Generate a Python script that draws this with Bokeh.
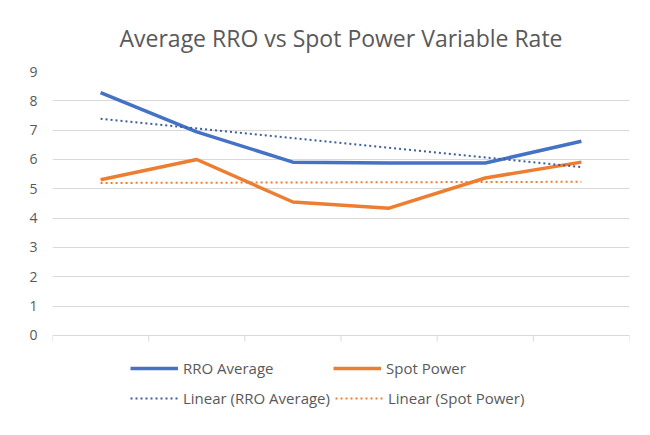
from bokeh.plotting import figure
from bokeh.models import Range1d, FixedTicker, Legend, LegendItem, Span
from bokeh.embed import file_html
from bokeh.resources import INLINE

# ---- data ----
categories = ["1", "2", "3", "4", "5", "6"]
rro_average = [8.28, 6.94, 5.91, 5.88, 5.88, 6.62]
spot_power = [5.31, 6.00, 4.55, 4.34, 5.37, 5.91]
linear_rro = [7.39, 5.74]      # trendline at first / last category
linear_spot = [5.20, 5.24]
y_ticks = list(range(0, 10))

TEXT = "#595959"
GRID = "#d9d9d9"
BLUE = "#4472C4"
ORANGE = "#ED7D31"
FONT = "Open Sans"

# category centres on a linear axis whose ticks sit on category boundaries
n = len(categories)
xc = [i + 0.5 for i in range(n)]
xt = [xc[0], xc[-1]]
bounds = list(range(n + 1))

# frame extends below 0 so the legend can sit inside it (no clipping)
p = figure(width=650, height=435, x_range=Range1d(0, n), y_range=Range1d(-3.41, 9),
           output_backend="svg", toolbar_location=None,
           min_border_left=52, min_border_right=21, min_border_top=71,
           min_border_bottom=0)
p.xaxis.visible = False

p.title.text = "Average RRO vs Spot Power Variable Rate"
p.title.align = "center"
p.title.text_font = FONT
p.title.text_font_size = "23px"
p.title.text_font_style = "normal"
p.title.text_color = TEXT
p.title.standoff = 36

p.outline_line_color = None

# y axis
p.yaxis.ticker = FixedTicker(ticks=y_ticks)
p.yaxis.axis_line_color = None
p.yaxis.major_tick_line_color = None
p.yaxis.minor_tick_line_color = None
p.yaxis.major_label_text_color = TEXT
p.yaxis.major_label_text_font = FONT
p.yaxis.major_label_text_font_size = "14px"
p.yaxis.major_label_standoff = 9
p.ygrid.grid_line_color = GRID
p.xgrid.grid_line_color = None

# category axis baseline with boundary ticks
p.add_layout(Span(location=0, dimension="width", line_color=GRID, line_width=1))
p.ray(x=bounds, y=[0] * len(bounds), length=6, length_units="screen",
      angle=-90, angle_units="deg", line_color=GRID, line_width=1)

r1 = p.line(xc, rro_average, line_color=BLUE, line_width=3.5, line_join="round")
r2 = p.line(xc, spot_power, line_color=ORANGE, line_width=3.5, line_join="round")
r3 = p.line(xt, linear_rro, line_color="#3B5FA0", line_width=2, line_dash="2 3")
r4 = p.line(xt, linear_spot, line_color=ORANGE, line_width=2, line_dash="2 3")

common = dict(orientation="horizontal", border_line_color=None,
              background_fill_alpha=0, label_text_font=FONT, label_text_font_size="15px",
              label_text_color=TEXT, glyph_width=48, glyph_height=20, label_standoff=5,
              label_width=145, spacing=5, padding=5, margin=0)
legend1 = Legend(items=[LegendItem(label="RRO Average", renderers=[r1]),
                        LegendItem(label="Spot Power", renderers=[r2])],
                 location=(78, 57), **common)
legend2 = Legend(items=[LegendItem(label="Linear (RRO Average)", renderers=[r3]),
                        LegendItem(label="Linear (Spot Power)", renderers=[r4])],
                 location=(78, 27), **common)
p.add_layout(legend1, "center")
p.add_layout(legend2, "center")

open("out.html", "w").write(file_html(p, INLINE))
